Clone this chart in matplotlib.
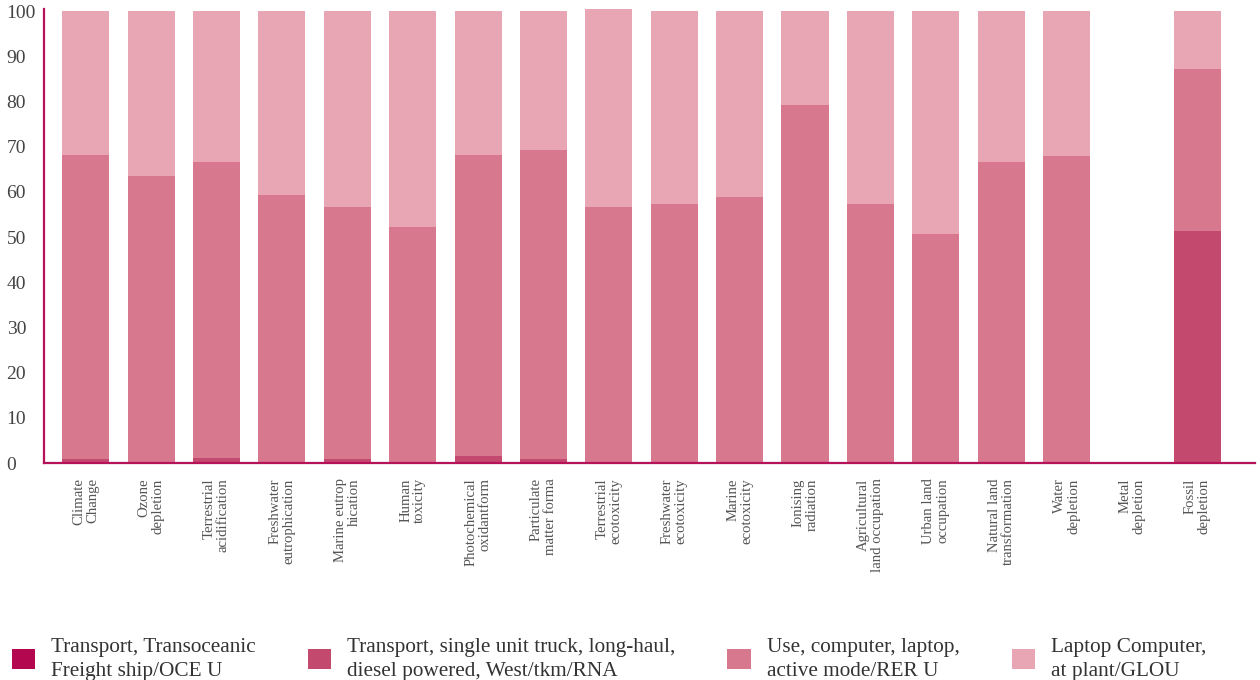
import numpy as np
from matplotlib import pyplot as plt

categories = ["Climate\nChange", "Ozone\ndepletion", "Terrestrial\nacidification",
              "Freshwater\neutrophication", "Marine eutrop\nhication", "Human\ntoxicity",
              "Photochemical\noxidantform", "Particulate\nmatter forma", "Terrestrial\necotoxicity",
              "Freshwater\necotoxicity", "Marine\necotoxicity", "Ionising\nradiation",
              "Agricultural\nland occupation", "Urban land\noccupation", "Natural land\ntransformation",
              "Water\ndepletion", "Metal\ndepletion", "Fossil\ndepletion"]

ship = [0.0] * 18
truck = [1.0, 0.3, 1.2, 0.0, 0.8, 0.3, 1.5, 0.8, 0.0, 0.0, 0.0, 0.0, 0.0, 0.0, 0.0, 0.0, 0.0, 51.3]
use = [67.1, 63.2, 65.4, 59.3, 55.8, 51.9, 66.6, 68.4, 56.6, 57.3, 58.8, 79.2, 57.3, 50.7, 66.6, 67.9, 0.0, 35.9]
laptop = [31.9, 36.5, 33.4, 40.7, 43.4, 47.8, 31.9, 30.8, 43.9, 42.7, 41.2, 20.8, 42.7, 49.3, 33.4, 32.1, 0.0, 12.8]

series_names = ["Transport, Transoceanic\nFreight ship/OCE U",
                "Transport, single unit truck, long-haul,\ndiesel powered, West/tkm/RNA",
                "Use, computer, laptop,\nactive mode/RER U",
                "Laptop Computer,\nat plant/GLOU"]
colors = ["#b3084f", "#c4496e", "#d8788f", "#e8a5b4"]
spine_col = "#b5125a"

plt.rcParams['font.family'] = ['Liberation Serif', 'DejaVu Serif']

fig = plt.figure(figsize=(12.6, 6.8), dpi=100)
ax = fig.add_axes([0.035, 0.319, 0.961, 0.668])

x = np.arange(len(categories))
bottom = np.zeros(len(categories))
handles = []
for vals, col, name in zip([ship, truck, use, laptop], colors, series_names):
    h = ax.bar(x, vals, width=0.72, bottom=bottom, color=col, label=name, linewidth=0)
    handles.append(h)
    bottom += np.array(vals)

ax.set_xlim(-0.636, 17.88)
ax.set_ylim(0, 100.5)
ax.set_yticks(np.arange(0, 101, 10))
ax.tick_params(axis='y', length=0, pad=27, labelsize=14, labelcolor='#444444')
for lab in ax.get_yticklabels():
    lab.set_horizontalalignment('left')
ax.set_xticks(x)
ax.set_xticklabels(categories, rotation=90, va='top', ha='center', multialignment='right',
                   fontsize=10.6, color='#555555', linespacing=1.1)
ax.tick_params(axis='x', length=0, pad=11)

for s in ['top', 'right']:
    ax.spines[s].set_visible(False)
for s in ['left', 'bottom']:
    ax.spines[s].set_color(spine_col)
    ax.spines[s].set_linewidth(1.6)

leg = fig.legend(handles=handles, loc='lower left', bbox_to_anchor=(-0.006, -0.03), ncol=4,
                 frameon=False, fontsize=15.3, handlelength=1.1, handleheight=1.05,
                 handletextpad=0.75, columnspacing=2.45, labelcolor='#333333')
for t in leg.get_texts():
    t.set_linespacing(1.4)

fig.savefig("out.png", dpi=100)
